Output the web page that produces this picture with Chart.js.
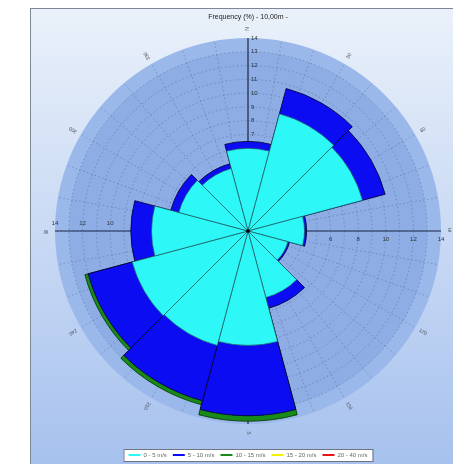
<!DOCTYPE html>
<html>
<head>
<meta charset="utf-8">
<script src="https://cdn.jsdelivr.net/npm/chart.js@4.4.0/dist/chart.umd.min.js"></script>
<style>
    html, body { margin: 0; padding: 0; background: #fff; overflow: hidden; }
    #frame {
        position: absolute; left: 30px; top: 8px; width: 422px; height: 460px;
        border-left: 1px solid #7d8799; border-top: 1px solid #7d8799;
        background: linear-gradient(#eaf1fa, #a6c1ee);
    }
    #chartCanvas { display: block; }
</style>
</head>
<body>
<div id="frame"><canvas id="chartCanvas" width="422" height="459"></canvas></div>
<script>
// wind directions (12 sectors of 30 degrees, starting at north)
const directions = ['N', '30', '60', 'E', '120', '150', 'S', '210', '240', 'W', '300', '330'];
const speedClasses = ['0 - 5 m/s', '5 - 10 m/s', '10 - 15 m/s', '15 - 20 m/s', '20 - 40 m/s'];

// frequency (%) per direction for each speed class
const freq0to5   = [6.0, 8.8, 8.6, 4.1, 3.0, 5.0, 8.3, 8.6, 8.7, 7.0, 5.2, 4.7];
const freq5to10  = [0.5, 1.9, 1.7, 0.15, 0.12, 0.8, 5.1, 4.15, 3.3, 1.5, 0.6, 0.35];
const freq10to15 = [0, 0, 0, 0, 0, 0, 0.4, 0.3, 0.25, 0, 0, 0];
const freq15to20 = [0, 0, 0, 0, 0, 0, 0, 0, 0, 0, 0, 0];
const freq20to40 = [0, 0, 0, 0, 0, 0, 0, 0, 0, 0, 0, 0];

const radialTicks = [1, 2, 3, 4, 5, 6, 7, 8, 9, 10, 11, 12, 13, 14];
const axisTicks = [2, 4, 6, 8, 10, 12, 14];

const classColors = ['#2ef7f7', '#0c0cf2', '#178a17', '#f2f200', '#ee1414'];
const classBorders = ['#1d5a5e', '#05053f', '#0b3d0b', '#6a6a00', '#6a0000'];

// stacked rose: each class is drawn as an arc reaching the cumulative frequency
const classes = [freq0to5, freq5to10, freq10to15, freq15to20, freq20to40];
let running = directions.map(() => 0);
const datasets = classes.map((freq, i) => {
    running = running.map((v, k) => v + freq[k]);
    return {
        label: speedClasses[i],
        data: running.map((v, k) => freq[k] > 0 ? v : 0),
        backgroundColor: classColors[i],
        borderColor: classBorders[i],
        borderWidth: i === 0 ? 0.7 : 0.9
    };
});

const roseBackground = {
    id: 'roseBackground',
    beforeDraw(chart) {
        const ctx = chart.ctx;
        const boxes = chart.legend.legendHitBoxes;
        if (!boxes || !boxes.length) return;
        let left = Math.min(...boxes.map(b => b.left)) - 5;
        let right = Math.max(...boxes.map(b => b.left + b.width)) + 5;
        let top = boxes[0].top - 3;
        ctx.save();
        ctx.fillStyle = '#ffffff';
        ctx.strokeStyle = '#6f7480';
        ctx.lineWidth = 1;
        ctx.fillRect(left, top, right - left, boxes[0].height + 6);
        ctx.strokeRect(left + 0.5, top + 0.5, right - left, boxes[0].height + 6);
        ctx.restore();
    },
    beforeDatasetsDraw(chart) {
        const ctx = chart.ctx;
        const s = chart.scales.r;
        const cx = s.xCenter, cy = s.yCenter;
        const R = v => s.getDistanceFromCenterForValue(v);
        const outer = R(14);
        ctx.save();
        ctx.fillStyle = '#9bb8ea';
        ctx.beginPath(); ctx.arc(cx, cy, outer, 0, Math.PI * 2); ctx.fill();
        ctx.fillStyle = '#8dade4';
        ctx.beginPath(); ctx.arc(cx, cy, R(13), 0, Math.PI * 2); ctx.fill();

        // dotted grid
        ctx.strokeStyle = 'rgba(70, 88, 135, 0.5)';
        ctx.lineWidth = 0.8;
        ctx.setLineDash([1.5, 2.5]);
        radialTicks.forEach(v => {
            if (v >= 14) return;
            ctx.beginPath(); ctx.arc(cx, cy, R(v), 0, Math.PI * 2); ctx.stroke();
        });
        for (let a = 0; a < 360; a += 10) {
            const t = a * Math.PI / 180;
            ctx.beginPath();
            ctx.moveTo(cx + R(1) * Math.sin(t), cy - R(1) * Math.cos(t));
            ctx.lineTo(cx + outer * Math.sin(t), cy - outer * Math.cos(t));
            ctx.stroke();
        }
        ctx.setLineDash([]);

        // axes
        ctx.strokeStyle = '#1e2b4c';
        ctx.lineWidth = 1.2;
        ctx.beginPath();
        ctx.moveTo(cx - outer, cy); ctx.lineTo(cx + outer, cy);
        ctx.moveTo(cx, cy - outer); ctx.lineTo(cx, cy + outer);
        ctx.stroke();

        // tick labels
        ctx.fillStyle = '#2a2f3a';
        ctx.font = '6px "Liberation Sans", Arial, sans-serif';
        ctx.textBaseline = 'middle';
        ctx.textAlign = 'left';
        radialTicks.forEach(v => ctx.fillText(String(v), cx + 3, cy - R(v)));
        ctx.textAlign = 'center';
        axisTicks.forEach(v => {
            ctx.fillText(String(v), cx + R(v), cy + 8);
            ctx.fillText(String(v), cx - R(v), cy - 8);
        });

        // compass labels, written along the radius
        ctx.fillStyle = '#4a4f5a';
        ctx.font = '5px "Liberation Sans", Arial, sans-serif';
        directions.forEach((d, i) => {
            const t = i * 30 * Math.PI / 180;
            ctx.save();
            ctx.translate(cx + (outer + 9) * Math.sin(t), cy - (outer + 9) * Math.cos(t));
            ctx.rotate(t - Math.PI / 2);
            ctx.fillText(d, 0, 0);
            ctx.restore();
        });
        ctx.restore();
    },
    afterDatasetsDraw(chart) {
        const ctx = chart.ctx;
        const s = chart.scales.r;
        ctx.save();
        ctx.fillStyle = '#000';
        ctx.beginPath(); ctx.arc(s.xCenter, s.yCenter, 1.8, 0, Math.PI * 2); ctx.fill();
        ctx.restore();
    }
};

const ctx = document.getElementById('chartCanvas').getContext('2d');
const chart = new Chart(ctx, {
    type: 'polarArea',
    data: {
        labels: directions,
        datasets: datasets
    },
    options: {
        responsive: false,
        animation: false,
        layout: {
            padding: { left: 24, right: 12, top: 0, bottom: 0 }
        },
        scales: {
            r: {
                min: 0,
                max: 14,
                startAngle: -15,
                ticks: { display: false },
                grid: { display: false },
                angleLines: { display: false },
                pointLabels: { display: false }
            }
        },
        plugins: {
            title: {
                display: true,
                text: 'Frequency (%) - 10,00m -',
                color: '#222',
                font: { size: 7, family: '"Liberation Sans", Arial, sans-serif', weight: 'normal' },
                padding: { top: 4, bottom: 16.6 }
            },
            legend: {
                position: 'bottom',
                title: { display: true, text: '', font: { size: 6 }, padding: { top: 14.8, bottom: 0 } },
                labels: {
                    usePointStyle: true,
                    pointStyleWidth: 12,
                    padding: 6,
                    color: '#333',
                    font: { size: 6, family: '"Liberation Sans", Arial, sans-serif' },
                    generateLabels: (c) => c.data.datasets.map((ds, i) => ({
                        text: ds.label,
                        fillStyle: classColors[i],
                        strokeStyle: classColors[i],
                        lineWidth: 2,
                        pointStyle: 'line',
                        hidden: false,
                        datasetIndex: i
                    }))
                }
            },
            tooltip: { enabled: false }
        }
    },
    plugins: [roseBackground]
});
</script>
</body>
</html>
